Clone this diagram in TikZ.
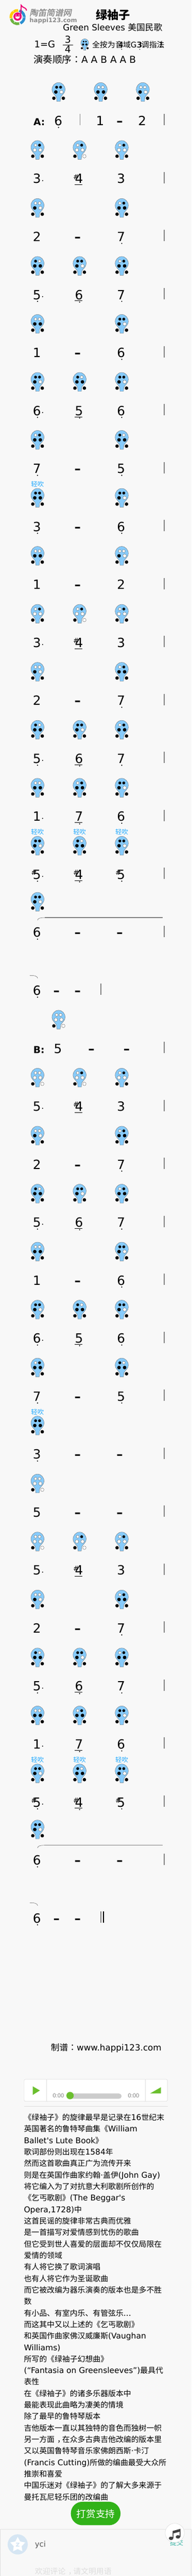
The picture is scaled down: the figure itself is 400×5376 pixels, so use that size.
\documentclass[tikz,border=0pt]{standalone}
\usepackage{fontspec}
\setmainfont{DejaVu Sans}
\newfontfamily\bodylatin{DejaVu Sans}[Scale=1.04]
\newfontfamily\zhfont{Noto Sans CJK SC}
\newfontfamily\zhpunct{Noto Sans CJK TC}
\newfontfamily\logofont{Noto Sans CJK SC}[FakeSlant=0.2,FakeBold=1.5]
\newfontfamily\playerfont{Liberation Sans}
\usetikzlibrary{shapes.geometric}

\definecolor{pagebg}{HTML}{F8F8F8}
\definecolor{ocarblue}{HTML}{87CBFB}
\definecolor{softblue}{HTML}{1FA8FF}
\definecolor{playgreen}{HTML}{6BBF2E}
\definecolor{rewardgreen}{HTML}{31B219}
\definecolor{boxgray}{HTML}{DDDDDD}
\definecolor{logogray}{HTML}{8A8A8A}
\definecolor{sendteal}{HTML}{3CB5A6}
\definecolor{avatarblue}{HTML}{D6E6F3}

\newcommand{\zh}[1]{{\zhfont #1}}
\newcommand{\zp}[1]{{\zhpunct #1}}
\newcommand{\zc}{\hspace{5.5pt}\zh{，}\hspace{-5.5pt}}
\newcommand{\fs}[1]{\fontsize{#1}{#1}\selectfont}
\newcommand{\threedots}{...}

\tikzset{
    plain/.style={inner sep=0pt,outer sep=0pt},
    notenum/.style={plain,anchor=base,font=\fs{26.5}},
    holdline/.style={plain,anchor=base,font=\fs{26.5}\bfseries},
    sharpsign/.style={plain,anchor=base,font=\fs{14.5}},
    partname/.style={plain,anchor=base,font=\fs{20}\bfseries},
    softlabel/.style={plain,text=softblue,font=\fs{13.3}\zhfont},
    bodyline/.style={plain,anchor=base west,font=\fs{16}\bodylatin},
    barline/.style={draw=gray,line width=1.7pt},
    tiecurve/.style={draw=black!70,line width=.5pt},
    hole0/.style={fill=white,draw=black!60,line width=.5pt},
    hole1/.style={fill=black},
}

% holes in the order top left, top right, mid left, mid right, low left, low right
\newcommand{\ocarholes}[6]{
    \path[hole#1] (-4,9.7) circle[radius=3pt];
    \path[hole#2] (4.3,9.7) circle[radius=3pt];
    \path[hole#3] (-5.7,19.7) circle[radius=3.7pt];
    \path[hole#4] (6,19.7) circle[radius=3.7pt];
    \path[hole#5] (-9.8,32.7) circle[radius=3.6pt];
    \path[hole#6] (10,32.7) circle[radius=3.6pt];
}
\newcommand{\ocar}[4][1]{
    \begin{scope}[shift={(#2,#3)},scale=#1]
    \draw[fill=ocarblue,draw=black!55,line width=.5pt] (0,0)
        .. controls (8,0) and (13.8,7) .. (13.8,15)
        .. controls (13.8,22) and (7,25.5) .. (4.6,30.5)
        .. controls (3.8,33) and (4,37) .. (3.6,39.3) -- (-3.6,39.3)
        .. controls (-4,37) and (-3.8,33) .. (-4.6,30.5)
        .. controls (-7,25.5) and (-13.8,22) .. (-13.8,15)
        .. controls (-13.8,7) and (-8,0) .. (0,0) -- cycle;
    \expandafter\ocarholes#4
    \end{scope}
}

\begin{document}
\begin{tikzpicture}[x=1pt,y=-1pt]
\useasboundingbox (0,0) rectangle (400,5376);
\fill[pagebg] (0,0) rectangle (400,5376);

% logo
\draw[line width=5.5pt,color={rgb,255:red,255;green,204;blue,0}] (36.7,35.7) ++(170:14) arc[start angle=170,end angle=275,radius=14];
\draw[line width=5.5pt,color={rgb,255:red,42;green,143;blue,208}] (36.7,35.7) ++(285:14) arc[start angle=285,end angle=425,radius=14];
\draw[line width=5.5pt,color={rgb,255:red,108;green,179;blue,63}] (36.7,35.7) ++(75:14) arc[start angle=75,end angle=165,radius=14];
\fill[magenta!80!red] (36.7,34.5) circle[radius=8.6pt];
\draw[magenta!80!red,line width=2.2pt] (43.3,32) -- (44.3,11) .. controls (47,17) and (55,15) .. (55.5,22);
\fill[white] (31.5,34.5) .. controls (33,41) and (40,41) .. (42,34.5) -- cycle;
\fill[white] (33.5,31.5) circle[radius=1.2pt] (39.8,31.5) circle[radius=1.2pt];
\node[plain,white,font=\fs{4}\bfseries] (logoone) at (27.7,23.3) {1};
\node[plain,white,font=\fs{4}\bfseries] (logotwo) at (50,36.7) {2};
\node[plain,white,font=\fs{4}\bfseries] (logothree) at (30,46.7) {3};
\node[plain,anchor=base west,text=logogray,font=\fs{17.5}\logofont] (logozh) at (61.7,33) {陶笛简谱网};
\node[plain,anchor=base west,text=logogray,font=\fs{12.5}\bfseries] (logoen) at (61.7,47.3) {happi123.com};

% heading
\node[plain,anchor=base,font=\fs{24}\zhfont\bfseries] (title) at (236,40.5) {绿袖子};
\node[plain,anchor=base west,font=\fs{18}] (subtitle) at (131.5,64) {Green Sleeves \zh{美国民歌}};
\node[plain,anchor=base west,font=\fs{19.5}] (keyname) at (71.5,99.5) {1=G};
\node[plain,anchor=base,font=\fs{20}] (timetop) at (141.7,89.5) {3};
\node[plain,anchor=base,font=\fs{20}] (timelow) at (141.7,110) {4};
\draw[line width=.7pt] (131,94.3) -- (153,94.3);
\ocar[.6]{177}{81}{111111}
\node[plain,anchor=base west,font=\fs{16}\zhfont] (fingerone) at (192.5,99.5) {全按为};
\node[plain,anchor=base west,font=\fs{16}] (fingertwo) at (241,99.5) {\zh{音域}G3\zh{调指法}};
\node[plain,anchor=base,font=\fs{16}] (fingerdigone) at (253,99.5) {4};
\node[plain,anchor=base,font=\fs{16}] (fingerdigtwo) at (292,99.5) {3};
\node[plain,anchor=base,font=\fs{16}] (fingerdigthree) at (336,99.5) {1};
\fill (254,103) circle[radius=.9pt] (292,103) circle[radius=.9pt];
\node[plain,anchor=base west,font=\fs{20}] (playorder) at (70,131.7) {\zh{演奏顺序}\zp{：}A A B A A B};

\node[partname] (parta) at (82,261.7) {A:};
\node[partname] (partb) at (81.5,2197.7) {B:};

% fingerings, row/x/holes
\foreach \r/\x/\h in {
    1/122.3/111011,1/210.3/001111,1/298.3/001011,
    2/78.3/010011,2/166.3/010010,2/254.3/010011,
    3/78.3/001011,3/254.3/011111,
    4/78.3/101111,4/166.3/111011,4/254.3/011111,
    5/78.3/001111,5/254.3/111011,
    6/78.3/111011,6/166.3/101111,6/254.3/111011,
    7/78.3/011111,7/254.3/101111,
    8/78.3/111111,8/254.3/111011,
    9/78.3/001111,9/254.3/001011,
    10/78.3/010011,10/166.3/010010,10/254.3/010011,
    11/78.3/001011,11/254.3/011111,
    12/78.3/101111,12/166.3/111011,12/254.3/011111,
    13/78.3/001111,13/166.3/011111,13/254.3/111011,
    14/78.3/111011,14/166.3/101111,14/254.3/111011,
    17/122.3/000010,
    18/78.3/000010,18/166.3/010010,18/254.3/010011,
    19/78.3/001011,19/254.3/011111,
    20/78.3/101111,20/166.3/111011,20/254.3/011111,
    21/78.3/001111,21/254.3/111011,
    22/78.3/111011,22/166.3/101111,22/254.3/111011,
    23/78.3/011111,23/254.3/101111,
    24/78.3/111111,
    25/78.3/000010,
    26/78.3/000010,26/166.3/010010,26/254.3/010011,
    27/78.3/001011,27/254.3/011111,
    28/78.3/101111,28/166.3/111011,28/254.3/011111,
    29/78.3/001111,29/166.3/011111,29/254.3/111011,
    30/78.3/111011,30/166.3/101111,30/254.3/111011}{
    \ocar{\x}{51.3+121*\r}{\h}
}
\ocar{78.3}{1862.3}{111011}
\ocar{78.3}{3798.3}{111011}

\foreach \r/\x [count=\i] in {8/78.3,14/78.3,14/166.3,14/254.3,24/78.3,30/78.3,30/166.3,30/254.3}{
    \node[softlabel] (soft\i) at (\x,{42.7+121*\r}) {轻吹};
}

% notes, row/x/digit
\foreach \r/\x/\d [count=\i] in {
    1/121.7/6,1/209/1,1/297/2,
    2/77/3,2/165/4,2/253/3,
    3/77/2,3/253/7,
    4/77/5,4/165/6,4/253/7,
    5/77/1,5/253/6,
    6/77/6,6/165/5,6/253/6,
    7/77/7,7/253/5,
    8/77/3,8/253/6,
    9/77/1,9/253/2,
    10/77/3,10/165/4,10/253/3,
    11/77/2,11/253/7,
    12/77/5,12/165/6,12/253/7,
    13/77/1,13/165/7,13/253/6,
    14/77/5,14/165/4,14/253/5,
    15/77/6,16/77/6,17/121/5,
    18/77/5,18/165/4,18/253/3,
    19/77/2,19/253/7,
    20/77/5,20/165/6,20/253/7,
    21/77/1,21/253/6,
    22/77/6,22/165/5,22/253/6,
    23/77/7,23/253/5,
    24/77/3,25/77/5,
    26/77/5,26/165/4,26/253/3,
    27/77/2,27/253/7,
    28/77/5,28/165/6,28/253/7,
    29/77/1,29/165/7,29/253/6,
    30/77/5,30/165/4,30/253/5,
    31/77/6,32/77/6}{
    \node[notenum] (note\i) at (\x,{140.7+121*\r}) {\d};
}

% held notes
\foreach \r/\x [count=\i] in {
    1/250,3/162,5/162,7/162,8/162,9/162,11/162,15/162,15/250,16/118,16/162,
    17/191,17/264.5,19/162,21/162,23/162,24/162,24/250,25/162,25/250,27/162,
    31/162,31/250,32/118,32/162}{
    \node[holdline] (hold\i) at (\x,{140.7+121*\r}) {–};
}

% low octave dots
\foreach \r/\x in {
    1/122.3,3/254.3,4/78.3,4/254.3,5/254.3,6/78.3,6/254.3,7/78.3,7/254.3,8/78.3,8/254.3,
    11/254.3,12/78.3,12/254.3,13/254.3,14/78.3,14/254.3,15/78.3,16/78.3,
    19/254.3,20/78.3,20/254.3,21/254.3,22/78.3,22/254.3,23/78.3,23/254.3,24/78.3,
    27/254.3,28/78.3,28/254.3,29/254.3,30/78.3,30/254.3,31/78.3,32/78.3}{
    \fill (\x,{145+121*\r}) circle[radius=1.3pt];
}
\foreach \r in {4,6,12,13,14,20,22,28,29,30}{
    \fill (166.3,{146.4+121*\r}) circle[radius=1.3pt];
}

% dotted first note with a short second one
\foreach \r in {2,4,6,10,12,13,14,18,20,22,26,28,29,30}{
    \fill (89,{135+121*\r}) circle[radius=1.2pt];
    \draw[line width=.7pt] (156,{143.7+121*\r}) -- (172,{143.7+121*\r});
}

\foreach \r/\x [count=\i] in {2/159,10/159,18/159,26/159,14/71,14/159,14/247,30/71,30/159,30/247}{
    \node[sharpsign] (sharp\i) at (\x,{132.5+121*\r}) {\#};
}

% bar lines
\draw[barline] (167,238) -- (167,261.7);
\foreach \r in {1,2,...,15,17,18,...,31}{
    \draw[barline] (343,{117+121*\r}) -- (343,{140.7+121*\r});
}
\draw[barline] (211,2053) -- (211,2076.7);
\draw[barline] (211,3989) -- (211,4012.7);
\draw[black,line width=3pt] (216,3989) -- (216,4012.7);

% first and second part of the long note
\foreach \y in {1915,3851}{
    \draw[barline] (93.3,\y) -- (340,\y);
    \draw[tiecurve] (78.3,\y+5.7) .. controls (79,\y+1.5) and (83,\y) .. (93.3,\y);
}
\foreach \y in {2035.7,3971}{
    \draw[tiecurve] (62.3,\y) .. controls (72,\y) and (78,\y+1) .. (78.7,\y+6);
}

\node[plain,anchor=base west,font=\fs{18}] (madeby) at (106.3,4280.2) {\zh{制谱}\zp{：}www.happi123.com};

% player
\draw[fill=white,draw=boxgray,rounded corners=2pt,line width=.8pt] (50.4,4339.4) rectangle (349.6,4385.3);
\draw[boxgray,line width=.8pt] (97.3,4339.4) -- (97.3,4385.3);
\draw[boxgray,line width=.8pt] (303.3,4339.4) -- (303.3,4385.3);
\fill[playgreen] (68.3,4354) -- (83.3,4362.7) -- (68.3,4372) -- cycle;
\node[plain,text=gray,font=\fs{12}\playerfont] (timenow) at (122,4373.3) {0:00};
\node[plain,text=gray,font=\fs{12}\playerfont] (timeall) at (279,4373.3) {0:00};
\fill[black!20,rounded corners=5.5pt] (139,4369) rectangle (254,4380);
\fill[playgreen] (146.3,4373.3) circle[radius=7.7pt];
\fill[playgreen] (313.3,4369) -- (336,4356) -- (336,4369) -- cycle;
\draw[boxgray,line width=.8pt] (50,4395.7) -- (350,4395.7);

% text under the player
\foreach \txt [count=\i from 0] in {
    {\zh{《绿袖子》的旋律最早是记录在}16\zh{世纪末}},
    {\zh{英国著名的鲁特琴曲集《}William},
    {Ballet's Lute Book\zh{》}},
    {\zh{歌词部份则出现在}1584\zh{年}},
    {\zh{然而这首歌曲真正广为流传开来}},
    {\zh{则是在英国作曲家约翰}·\zh{盖伊}(John Gay)},
    {\zh{将它编入为了对抗意大利歌剧所创作的}},
    {\zh{《乞丐歌剧》}(The Beggar's},
    {Opera,1728)\zh{中}},
    {\zh{这首民谣的旋律非常古典而优雅}},
    {\zh{是一首描写对爱情感到忧伤的歌曲}},
    {\zh{但它受到世人喜爱的层面却不仅仅局限在}},
    {\zh{爱情的领域}},
    {\zh{有人将它换了歌词演唱}},
    {\zh{也有人将它作为圣诞歌曲}},
    {\zh{而它被改编为器乐演奏的版本也是多不胜}},
    {\zh{数}},
    {\zh{有小品、有室内乐、有管弦乐}\threedots},
    {\zh{而这其中又以上述的《乞丐歌剧》}},
    {\zh{和英国作曲家佛汉威廉斯}(Vaughan},
    {Williams)},
    {\zh{所写的《绿袖子幻想曲》}},
    {(“Fantasia on Greensleeves”)\zh{最具代}},
    {\zh{表性}},
    {\zh{在《绿袖子》的诸多乐器版本中}},
    {\zh{最能表现此曲略为凄美的情境}},
    {\zh{除了最早的鲁特琴版本}},
    {\zh{吉他版本一直以其独特的音色而独树一帜}},
    {\zh{另一方面}\zc\zh{在众多古典吉他改编的版本里}},
    {\zh{又以英国鲁特琴音乐家佛朗西斯}·\zh{卡汀}},
    {(Francis Cutting)\zh{所做的编曲最受大众所}},
    {\zh{推崇和喜爱}},
    {\zh{中国乐迷对《绿袖子》的了解大多来源于}},
    {\zh{曼托瓦尼轻乐团的改编曲}}}{
    \node[bodyline] (line\i) at (50,{4425+24*\i}) {\txt};
}

\fill[rewardgreen,rounded corners=24pt] (148,5221) rectangle (251.7,5270);
\node[plain,text=white,font=\fs{20}\zhfont] (reward) at (200,5246) {打赏支持};

% comment box
\draw[boxgray,line width=.7pt,rounded corners=1pt] (.6,5376) -- (.6,5278.3) -- (399.4,5278.3) -- (399.4,5376);
\fill[avatarblue] (37,5310) circle[radius=21pt];
\node[star,star points=5,star point ratio=1.9,fill=white,minimum size=33pt,inner sep=0pt,text=avatarblue,font=\fs{15}\bfseries] (avatarstar) at (37,5311) {z};
\node[plain,anchor=base west,text=black!65,font=\fs{16}] (username) at (73,5315) {yci};
\node[plain,anchor=base west,text=boxgray,font=\fs{16}] (hint) at (73,5372) {\zh{欢迎评论}\zc\zh{请文明用语}};
\node[plain,text=sendteal,font=\fs{14}\zhfont] (send) at (369,5306.7) {提交};
\draw[fill=white,draw=boxgray,line width=.7pt] (365,5286) circle[radius=20pt];
\fill[black!75] (357.3,5297.3) ellipse[x radius=4.7pt,y radius=3.6pt];
\fill[black!75] (371.7,5294.3) ellipse[x radius=4.7pt,y radius=3.6pt];
\fill[black!75] (360.6,5297) -- (360.6,5282) -- (377,5277.5) -- (377,5294) -- (375.4,5294) -- (375.4,5283.5) -- (362.2,5287) -- (362.2,5297) -- cycle;
\end{tikzpicture}
\end{document}
